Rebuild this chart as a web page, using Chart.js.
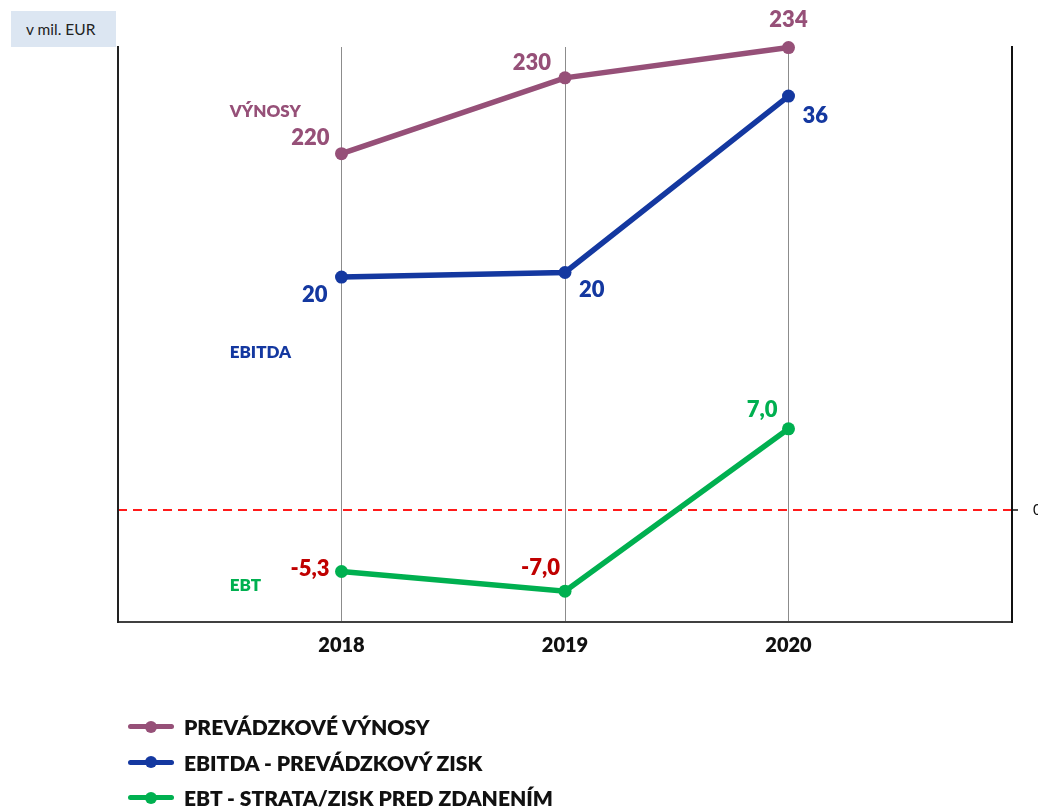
<!DOCTYPE html>
<html>
<head>
<meta charset="utf-8">
<script src="https://cdn.jsdelivr.net/npm/chart.js@4.4.1/dist/chart.umd.min.js"></script>
<style>
  body { margin: 0; background: #fff; font-family: Lato, "Open Sans", sans-serif; }
  #wrap { position: relative; width: 1038px; height: 812px; }
  #unit { position: absolute; left: 11px; top: 11px; width: 105px; height: 36px; background: #dce6f2;
          font-size: 15.5px; line-height: 36px; padding-left: 15px; box-sizing: border-box; color: #222; }
  #legend { position: absolute; left: 128px; top: 709px; }
  .li { display: flex; align-items: center; height: 35.5px; font-weight: 800; font-size: 21px; color: #111; }
  .mk { position: relative; width: 46px; height: 5px; border-radius: 3px; margin-right: 10px; }
  .dot { position: absolute; left: 17px; top: -3.5px; width: 12px; height: 12px; border-radius: 50%; }
</style>
</head>
<body>
<div id="wrap">
  <canvas id="myChart" width="1038" height="812"></canvas>
  <div id="unit"></div>
  <div id="legend"></div>
</div>
<script>
// udaje z grafu
const years = [2018, 2019, 2020]
const vynosy = [220, 230, 234]
const ebitda = [20, 20.4, 36]
const ebt = [-5.3, -7.0, 7.0]
const seriesNames = ['PREVÁDZKOVÉ VÝNOSY', 'EBITDA - PREVÁDZKOVÝ ZISK', 'EBT - STRATA/ZISK PRED ZDANENÍM']
const seriesTags = ['VÝNOSY', 'EBITDA', 'EBT']
const zeroTicks = [0]
const unitLabel = 'v mil. EUR'

document.getElementById('unit').textContent = unitLabel

// vzhlad
const colors = ['#965078', '#1438a0', '#00b050']
const negColor = '#c00000'
const decimals = [0, 0, 1]
// posun popisov [dx, dy, zarovnanie]
const labelPos = [
  [[-12, -16, 'right'], [-14, -15, 'right'], [0, -28, 'center']],
  [[-14, 18, 'right'], [14, 17, 'left'], [14, 20, 'left']],
  [[-12, -3, 'right'], [-5, -23, 'right'], [-11, -19, 'right']]
]
// kde stoji nazov rady (hodnota na jej osi)
const tagAt = [225.5, 13.3, -6.5]
const axisIds = ['y1', 'y2', 'y3']

function pts(vals) {
  return years.map((x, i) => ({ x: x, y: vals[i] }))
}
function fmt(v, d) {
  return v.toFixed(d).replace('.', ',')
}

const valueLabels = {
  id: 'valueLabels',
  afterDatasetsDraw(chart) {
    const ctx = chart.ctx
    ctx.save()
    ctx.textBaseline = 'middle'
    chart.data.datasets.forEach((ds, di) => {
      const meta = chart.getDatasetMeta(di)
      meta.data.forEach((p, i) => {
        const v = ds.data[i].y
        const lp = labelPos[di][i]
        ctx.font = '800 22px Lato'
        ctx.fillStyle = v < 0 ? negColor : colors[di]
        ctx.textAlign = lp[2]
        ctx.fillText(fmt(v, decimals[di]), p.x + lp[0], p.y + lp[1])
      })
      // nazov rady
      const xs = chart.scales.x
      const ys = chart.scales[axisIds[di]]
      ctx.font = '800 17px Lato'
      ctx.fillStyle = colors[di]
      ctx.textAlign = 'left'
      ctx.fillText(seriesTags[di], xs.getPixelForValue(2017.5), ys.getPixelForValue(tagAt[di]))
    })
    ctx.restore()
  }
}

const allSeries = [vynosy, ebitda, ebt]
const datasets = allSeries.map((vals, i) => ({
  label: seriesNames[i],
  data: pts(vals),
  yAxisID: axisIds[i],
  borderColor: colors[i],
  backgroundColor: colors[i],
  pointBackgroundColor: colors[i],
  pointBorderWidth: 0,
  pointRadius: 6.5,
  borderWidth: 5.5,
  tension: 0,
  clip: false
}))

const ctx = document.getElementById('myChart')
const chart = new Chart(ctx, {
  type: 'line',
  data: { datasets: datasets },
  plugins: [valueLabels],
  options: {
    responsive: false,
    animation: false,
    layout: { padding: { top: 47, left: 0, right: 0, bottom: 0 } },
    plugins: { legend: { display: false }, tooltip: { enabled: false } },
    scales: {
      x: {
        type: 'linear', min: 2017, max: 2021,
        afterBuildTicks: s => { s.ticks = [2017, 2018, 2019, 2020, 2021].map(v => ({ value: v })) },
        ticks: {
          callback: v => years.includes(v) ? String(v) : '',
          color: '#111', font: { family: 'Lato', weight: '800', size: 20 }, padding: 12, maxRotation: 0
        },
        grid: {
          color: c => (c.tick && years.includes(c.tick.value)) ? '#8c8c8c' : 'rgba(0,0,0,0)',
          lineWidth: 1, drawTicks: false
        },
        border: { display: true, color: '#404040', width: 2 },
        afterFit: s => { s.height = 190 }
      },
      y1: {
        position: 'left', min: 158.21, max: 234.07,
        ticks: { display: false },
        grid: { display: false },
        border: { display: true, color: '#222', width: 2 },
        afterFit: s => { s.width = 118 }
      },
      y2: {
        display: false, min: -10.5, max: 40.34
      },
      y3: {
        position: 'right', min: -9.655, max: 39.91,
        afterBuildTicks: s => { s.ticks = zeroTicks.map(v => ({ value: v })) },
        ticks: { color: '#111', font: { family: 'Lato', size: 15 }, padding: 15 },
        grid: { color: '#ff1a1a', lineWidth: 2, tickColor: '#111', tickLength: 6, tickWidth: 1.5 },
        border: { display: true, color: '#111', width: 2, dash: [9, 6] },
        afterFit: s => { s.width = 26 }
      }
    }
  }
})

// legenda pod grafom
const legendBox = document.getElementById('legend')
chart.data.datasets.forEach(ds => {
  const row = document.createElement('div')
  row.className = 'li'
  const mk = document.createElement('span')
  mk.className = 'mk'
  mk.style.background = ds.borderColor
  const dot = document.createElement('span')
  dot.className = 'dot'
  dot.style.background = ds.borderColor
  mk.appendChild(dot)
  const t = document.createElement('span')
  t.textContent = ds.label
  row.appendChild(mk)
  row.appendChild(t)
  legendBox.appendChild(row)
})
</script>
</body>
</html>
